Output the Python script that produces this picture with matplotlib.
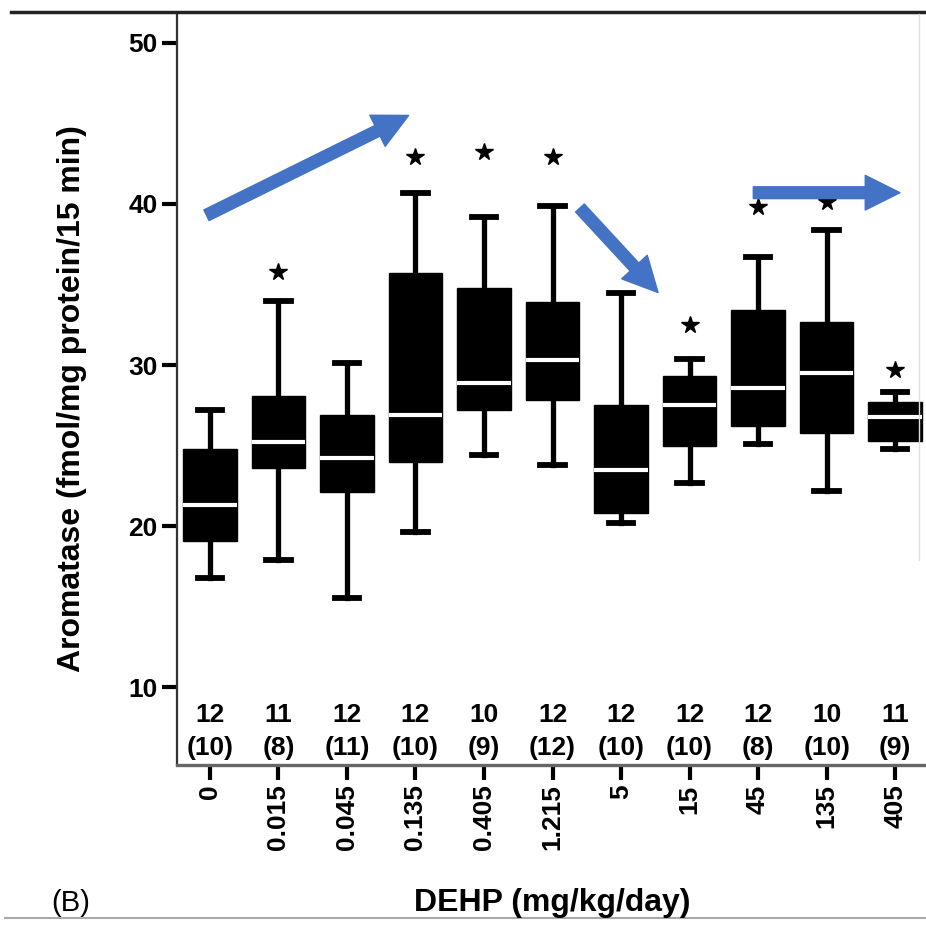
import matplotlib
matplotlib.use("Agg")
import matplotlib.pyplot as plt
from matplotlib.patches import FancyArrowPatch, ArrowStyle
from matplotlib.lines import Line2D

plt.rcParams['font.family'] = ['Liberation Sans', 'DejaVu Sans']

# dose groups and box statistics
doses = ['0', '0.015', '0.045', '0.135', '0.405', '1.215', '5', '15', '45', '135', '405']
whislo = [16.8, 17.9, 15.5, 19.6, 24.4, 23.8, 20.2, 22.7, 25.1, 22.2, 24.8]
q1 = [19.1, 23.6, 22.1, 24.0, 27.2, 27.8, 20.8, 25.0, 26.2, 25.8, 25.3]
med = [21.3, 25.2, 24.2, 26.9, 28.9, 30.3, 23.5, 27.5, 28.6, 29.5, 26.8]
q3 = [24.8, 28.1, 26.9, 35.7, 34.8, 33.9, 27.5, 29.3, 33.4, 32.7, 27.7]
whishi = [27.2, 34.0, 30.1, 40.7, 39.2, 39.9, 34.5, 30.4, 36.7, 38.4, 28.3]

# sample sizes: animals (litters)
n_animals = [12, 11, 12, 12, 10, 12, 12, 12, 12, 10, 11]
n_litters = [10, 8, 11, 10, 9, 12, 10, 10, 8, 10, 9]

# significance stars (group index, y position)
star_idx = [1, 3, 4, 5, 7, 8, 9, 10]
star_y = [35.8, 42.9, 43.2, 42.9, 32.5, 39.8, 40.1, 29.7]

# trend arrows (start, end) in data units
arrow_start = [(-0.05, 39.3), (5.40, 39.75), (7.93, 40.7)]
arrow_end = [(2.90, 45.5), (6.54, 34.5), (10.07, 40.7)]

W, H = 926, 925
fig = plt.figure(figsize=(W / 100, H / 100), dpi=100)
ax = fig.add_axes([177 / W, 160 / H, (W - 177) / W, (912 - 160) / H])

stats = []
for i in range(len(doses)):
    stats.append(dict(med=med[i], q1=q1[i], q3=q3[i], whislo=whislo[i], whishi=whishi[i], fliers=[]))

pos = list(range(len(doses)))
ax.bxp(stats, positions=pos, widths=0.78, patch_artist=True, showfliers=False,
       capwidths=0.36,
       boxprops=dict(facecolor='black', edgecolor='black', linewidth=1),
       whiskerprops=dict(color='black', linewidth=3.8),
       capprops=dict(color='black', linewidth=4.2),
       medianprops=dict(color='white', linewidth=3))

ax.plot(star_idx, star_y, linestyle='none', marker='*', markersize=13, color='black')

for i in pos:
    ax.text(i, 8.26, str(n_animals[i]), ha='center', va='center', fontsize=19, fontweight='bold')
    ax.text(i, 6.2, '(%d)' % n_litters[i], ha='center', va='center', fontsize=19, fontweight='bold')

for s, e in zip(arrow_start, arrow_end):
    arr = FancyArrowPatch(s, e, arrowstyle=ArrowStyle.Simple(head_length=25, head_width=25, tail_width=8.5),
                          mutation_scale=1, color='#4472C4', shrinkA=0, shrinkB=0, zorder=6)
    ax.add_patch(arr)

ax.set_xlim(-0.48, 10.45)
ax.set_ylim(5.16, 51.86)
ax.set_yticks([10, 20, 30, 40, 50])
ax.set_xticks(pos)
ax.set_xticklabels(doses, rotation=90, fontsize=19, fontweight='bold', va='top', ha='center')
for lab in ax.get_yticklabels():
    lab.set_fontsize(19)
    lab.set_fontweight('bold')
ax.tick_params(axis='both', length=11, width=3, color='black', pad=3)

ax.spines['top'].set_visible(False)
ax.spines['right'].set_visible(False)
ax.spines['left'].set_color('#333333')
ax.spines['left'].set_linewidth(1.6)
ax.spines['bottom'].set_color('#666666')
ax.spines['bottom'].set_linewidth(2.4)

fig.text(72 / W, (H - 399) / H, 'Aromatase (fmol/mg protein/15 min)', rotation=90,
         ha='center', va='center', fontsize=23, fontweight='bold')
fig.text(552 / W, (H - 903) / H, 'DEHP (mg/kg/day)', ha='center', va='center',
         fontsize=23, fontweight='bold')
fig.text(71 / W, (H - 903) / H, '(B)', ha='center', va='center', fontsize=21)

# frame lines of the cropped figure panel
fig.add_artist(Line2D([11 / W, 1], [(H - 12) / H] * 2, color='#222222', linewidth=2.5))
fig.add_artist(Line2D([5 / W, 1], [(H - 918) / H] * 2, color='#aaaaaa', linewidth=1.5))
fig.add_artist(Line2D([919 / W] * 2, [(H - 14) / H, (H - 560) / H], color='#dddddd', linewidth=1))

fig.savefig('out.png', dpi=100)
